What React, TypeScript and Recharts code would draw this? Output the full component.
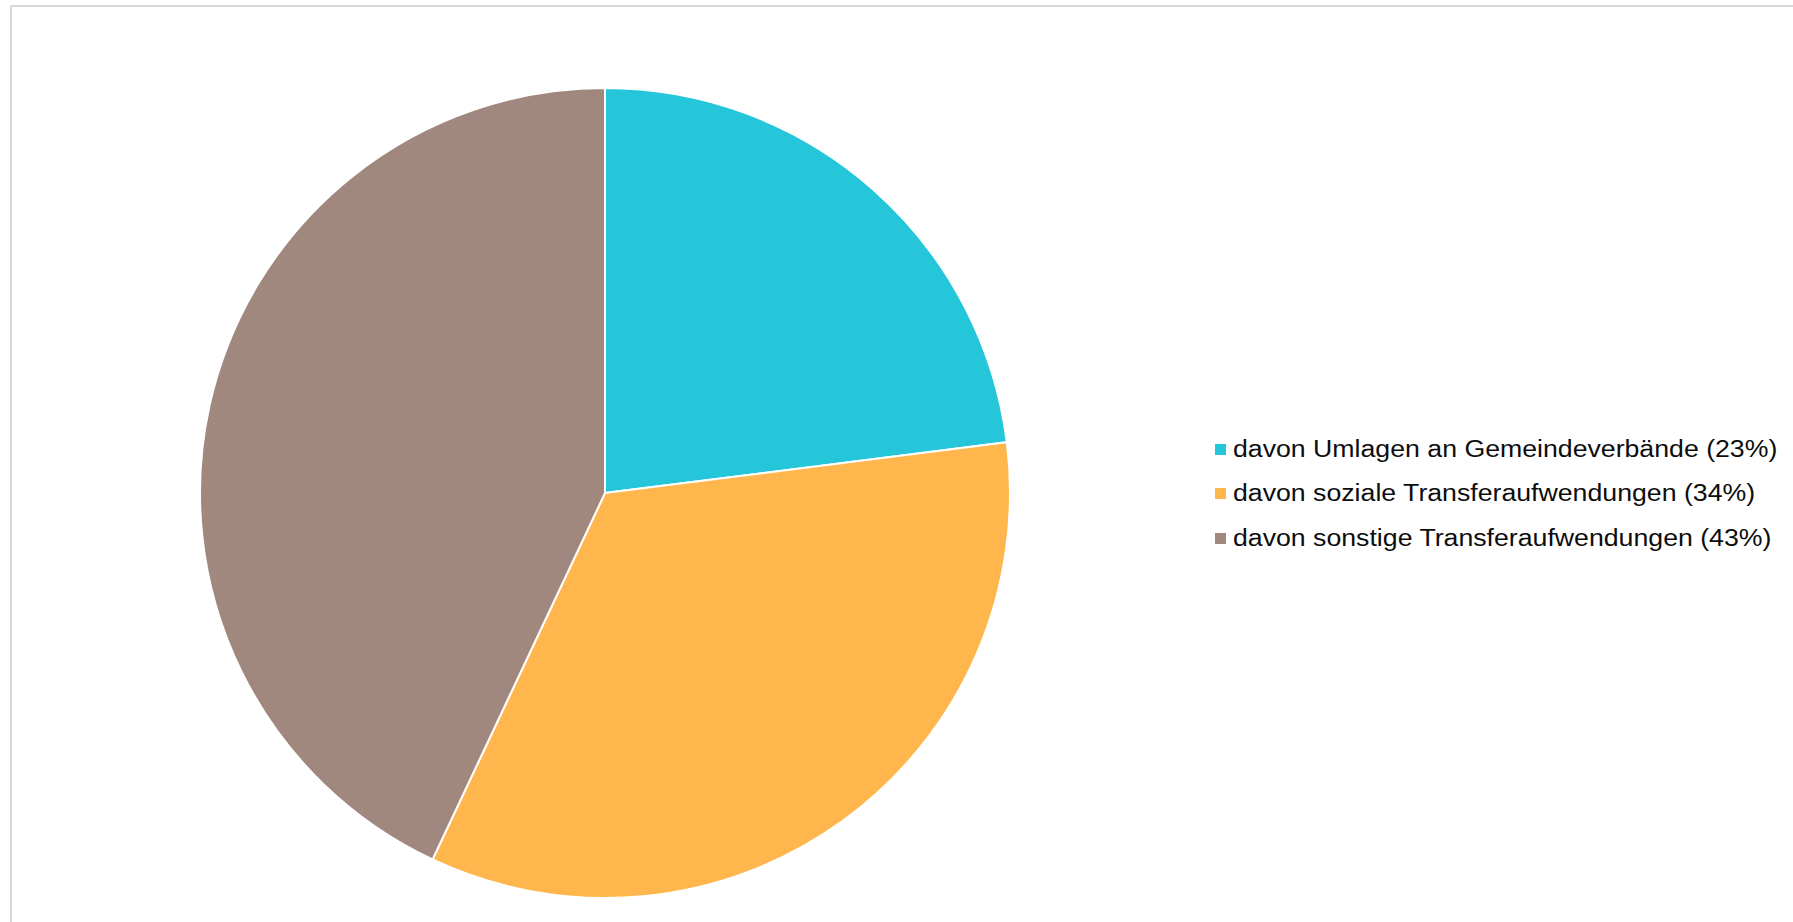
import React from 'react';
import { PieChart, Pie, Cell, Legend } from 'recharts';

const categories = [
  'davon Umlagen an Gemeindeverbände',
  'davon soziale Transferaufwendungen',
  'davon sonstige Transferaufwendungen',
];
const shares = [23, 34, 43];
const colors = ['#26C6DA', '#FFB74D', '#A1887F'];

const data = categories.map((name, i) => ({ name, value: shares[i] }));

const LegendList = () => (
  <div style={{ fontFamily: 'Arial, "Liberation Sans", sans-serif', fontSize: 23, color: '#0d0d0d' }}>
    {data.map((d, i) => (
      <div key={d.name} style={{ display: 'flex', alignItems: 'center', height: 44.5 }}>
        <span style={{ display: 'inline-block', width: 11, height: 11, background: colors[i], marginRight: 7, flexShrink: 0 }} />
        <span style={{ display: 'inline-block', transform: 'scaleX(1.16)', transformOrigin: 'left center', whiteSpace: 'nowrap' }}>
          {d.name + ' (' + d.value + '%)'}
        </span>
      </div>
    ))}
  </div>
);

export default function App() {
  return (
    <div style={{ position: 'absolute', left: 0, top: 0, width: 1793, height: 922, overflow: 'hidden', background: '#fff' }}>
      <style>{'body{margin:0}'}</style>
      <div style={{ position: 'absolute', left: 10, top: 5, width: 1800, height: 940, border: '2px solid #d9d9d9' }} />
      <PieChart width={1793} height={922} style={{ position: 'absolute', left: 0, top: 0 }}>
        <Pie
          data={data}
          dataKey="value"
          nameKey="name"
          cx={600}
          cy={488}
          outerRadius={405}
          startAngle={90}
          endAngle={-270}
          stroke="#fff"
          strokeWidth={2}
          isAnimationActive={false}
        >
          {data.map((d, i) => (
            <Cell key={d.name} fill={colors[i]} />
          ))}
        </Pie>
        <Legend
          content={<LegendList />}
          wrapperStyle={{ left: 1215, top: 427, width: 570, bottom: 'auto', right: 'auto' }}
        />
      </PieChart>
    </div>
  );
}
